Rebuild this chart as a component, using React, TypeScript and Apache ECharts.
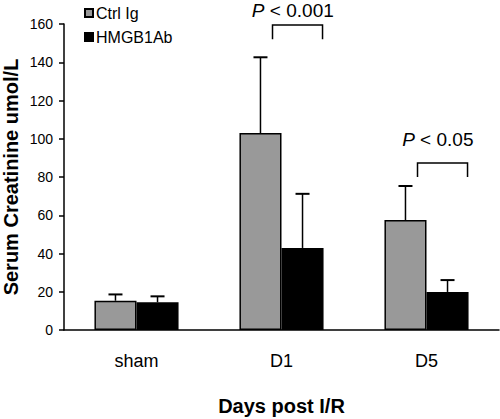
import React, { useEffect, useRef } from "react";
import * as echarts from "echarts";

const categories = ["sham", "D1", "D5"];
const ctrlIg = [15.3, 103, 57.5];
const ctrlIgErr = [3.3, 39.6, 17.8];
const hmgb1Ab = [14.5, 42.9, 19.9];
const hmgb1AbErr = [3.1, 28.3, 6.2];
const yTicks = { min: 0, max: 160, interval: 20 };

const sigCats = [1, 2];
const sigBracketTop = [159.5, 87.3];
const sigBracketBottom = [152, 80];
const sigTextY = [167.3, 99.5];
const sigLabels = ["< 0.001", "< 0.05"];

const FONT = "'Liberation Sans', Arial, sans-serif";
const BAR_FRAC = 0.29;

export default function App() {
  const ref = useRef<HTMLDivElement>(null);
  useEffect(() => {
    if (!ref.current) return;
    const chart = echarts.init(ref.current, null, { renderer: "svg" });
    const errData: number[][] = [];
    categories.forEach((_, i) => {
      errData.push([i, ctrlIg[i], ctrlIgErr[i], 0]);
      errData.push([i, hmgb1Ab[i], hmgb1AbErr[i], 1]);
    });
    const sigData = sigCats.map((c, i) => [c, sigBracketTop[i], sigBracketBottom[i], sigTextY[i]]);

    chart.setOption({
      animation: false,
      backgroundColor: "#fff",
      grid: { left: 64, right: 1, top: 24, bottom: 89, containLabel: false, outerBoundsMode: "none" },
      legend: {
        orient: "vertical",
        left: 84,
        top: 5,
        padding: 0,
        itemWidth: 8,
        itemHeight: 8,
        itemGap: 8,
        icon: "rect",
        textStyle: { fontFamily: FONT, fontSize: 16, color: "#000", padding: [0, 0, 0, -2] },
        data: ["Ctrl Ig", "HMGB1Ab"],
      },
      xAxis: {
        type: "category",
        data: categories,
        axisLine: { lineStyle: { color: "#000", width: 1.5 } },
        axisTick: { show: false },
        axisLabel: { fontFamily: FONT, fontSize: 18, color: "#000", margin: 22 },
        name: "Days post I/R",
        nameLocation: "middle",
        nameGap: 66,
        nameMoveOverlap: false,
        nameTextStyle: { fontFamily: FONT, fontSize: 20, fontWeight: "bold", color: "#000" },
      },
      yAxis: {
        type: "value",
        min: yTicks.min,
        max: yTicks.max,
        interval: yTicks.interval,
        splitLine: { show: false },
        axisLine: { show: true, lineStyle: { color: "#000", width: 1.5 } },
        axisTick: { show: true, length: 5, lineStyle: { color: "#000", width: 1.5 } },
        axisLabel: { fontFamily: FONT, fontSize: 14, color: "#000", margin: 11 },
        name: "Serum Creatinine umol/L",
        nameLocation: "middle",
        nameGap: 43,
        nameMoveOverlap: false,
        nameTextStyle: { fontFamily: FONT, fontSize: 20, fontWeight: "bold", color: "#000" },
      },
      series: [
        {
          name: "Ctrl Ig",
          type: "bar",
          data: ctrlIg,
          barWidth: BAR_FRAC * 100 + "%",
          barGap: "0%",
          itemStyle: { color: "#999999", borderColor: "#000", borderWidth: 1.5 },
        },
        {
          name: "HMGB1Ab",
          type: "bar",
          data: hmgb1Ab,
          barWidth: BAR_FRAC * 100 + "%",
          barGap: "0%",
          itemStyle: { color: "#000", borderColor: "#000", borderWidth: 1.5 },
        },
        {
          type: "custom",
          data: errData,
          encode: { x: 0, y: 1 },
          z: 1,
          renderItem: (params: any, api: any) => {
            const idx = api.value(0);
            const v = api.value(1);
            const e = api.value(2);
            const g = api.value(3);
            const band = api.size([1, 0])[0];
            const barW = band * BAR_FRAC;
            const base = api.coord([idx, v]);
            const top = api.coord([idx, v + e]);
            const cx = base[0] + (g === 0 ? -barW / 2 : barW / 2);
            return {
              type: "group",
              children: [
                { type: "line", shape: { x1: cx, y1: base[1], x2: cx, y2: top[1] }, style: { stroke: "#000", lineWidth: 1.5 } },
                { type: "line", shape: { x1: cx - 7, y1: top[1], x2: cx + 7, y2: top[1] }, style: { stroke: "#000", lineWidth: 2 } },
              ],
            };
          },
        },
        {
          type: "custom",
          data: sigData,
          encode: { x: 0, y: 1 },
          renderItem: (params: any, api: any) => {
            const idx = api.value(0);
            const band = api.size([1, 0])[0];
            const t = api.coord([idx, api.value(1)]);
            const b = api.coord([idx, api.value(2)]);
            const ty = api.coord([idx, api.value(3)]);
            const x1 = t[0] - band * 0.062;
            const x2 = t[0] + band * 0.283;
            return {
              type: "group",
              children: [
                {
                  type: "polyline",
                  shape: { points: [[x1, b[1]], [x1, t[1]], [x2, t[1]], [x2, b[1]]] },
                  style: { stroke: "#000", lineWidth: 1.5, fill: "none" },
                },
                {
                  type: "text",
                  x: t[0] + band * 0.078,
                  y: ty[1],
                  style: {
                    text: "{i|P} " + sigLabels[params.dataIndex],
                    rich: { i: { fontStyle: "italic", fontFamily: FONT, fontSize: 19, fill: "#000" } },
                    fontFamily: FONT,
                    fontSize: 19,
                    fill: "#000",
                    align: "center",
                    verticalAlign: "middle",
                  },
                },
              ],
            };
          },
        },
      ],
    });
    return () => chart.dispose();
  }, []);
  return <div ref={ref} style={{ width: 500, height: 419, position: "absolute", left: 0, top: 0 }} />;
}
